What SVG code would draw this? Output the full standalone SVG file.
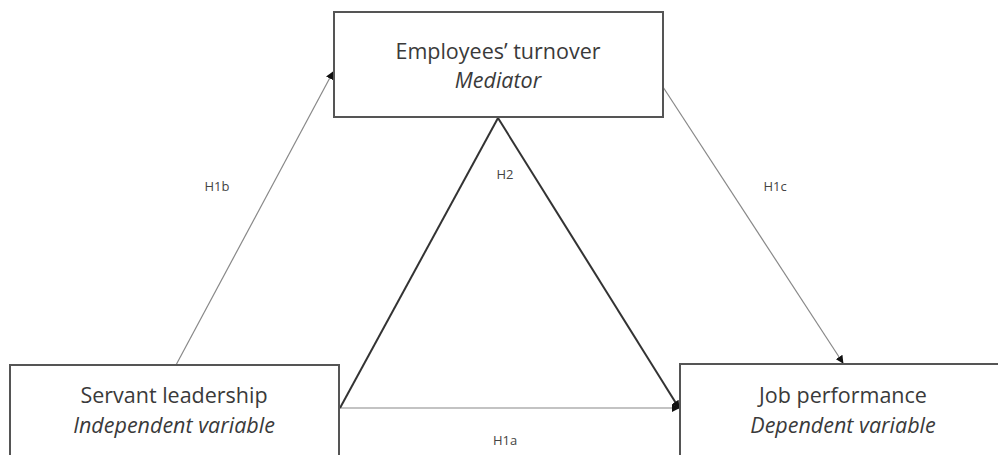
<svg xmlns="http://www.w3.org/2000/svg" width="998" height="455" viewBox="0 0 998 455">
<style>
.box{fill:#fff;stroke:#555;stroke-width:2}
.t{font-family:"Open Sans","Liberation Sans",sans-serif;font-size:21.5px;fill:#3a3a3a;text-anchor:middle}
.i{font-style:italic}
.lbl{font-family:"Open Sans","Liberation Sans",sans-serif;font-size:13px;fill:#444;text-anchor:middle}
.thin{stroke:#888;stroke-width:1.2;fill:none}
.thick{stroke:#333;stroke-width:2;fill:none}
</style>
<defs>
<marker id="ah" viewBox="0 0 10 10" refX="9" refY="5" markerWidth="8" markerHeight="8" markerUnits="userSpaceOnUse" orient="auto">
<path d="M0,0 L10,5 L0,10 z" fill="#111"/>
</marker>
</defs>
<g id="connectors">
<line class="thin" x1="176" y1="365" x2="333" y2="72" marker-end="url(#ah)"/>
<line class="thin" x1="663" y1="87" x2="843" y2="363" marker-end="url(#ah)"/>
<line class="thin" x1="340" y1="408" x2="679" y2="408" marker-end="url(#ah)"/>
<line class="thick" x1="340" y1="408" x2="498" y2="118"/>
<line class="thick" x1="498" y1="118" x2="679" y2="408" marker-end="url(#ah)"/>
<text class="lbl" x="217" y="191">H1b</text>
<text class="lbl" x="505" y="179">H2</text>
<text class="lbl" x="775" y="191">H1c</text>
<text class="lbl" x="505" y="445">H1a</text>
</g>
<g id="mediator">
<rect class="box" x="334" y="12" width="329" height="105"/>
<text class="t" x="498" y="59">Employees’ turnover</text>
<text class="t i" x="498" y="88">Mediator</text>
</g>
<g id="independent">
<rect class="box" x="10" y="365" width="329" height="100"/>
<text class="t" x="174" y="403">Servant leadership</text>
<text class="t i" x="174" y="433">Independent variable</text>
</g>
<g id="dependent">
<rect class="box" x="680" y="364" width="330" height="100"/>
<text class="t" x="843" y="403">Job performance</text>
<text class="t i" x="843" y="433">Dependent variable</text>
</g>
</svg>
